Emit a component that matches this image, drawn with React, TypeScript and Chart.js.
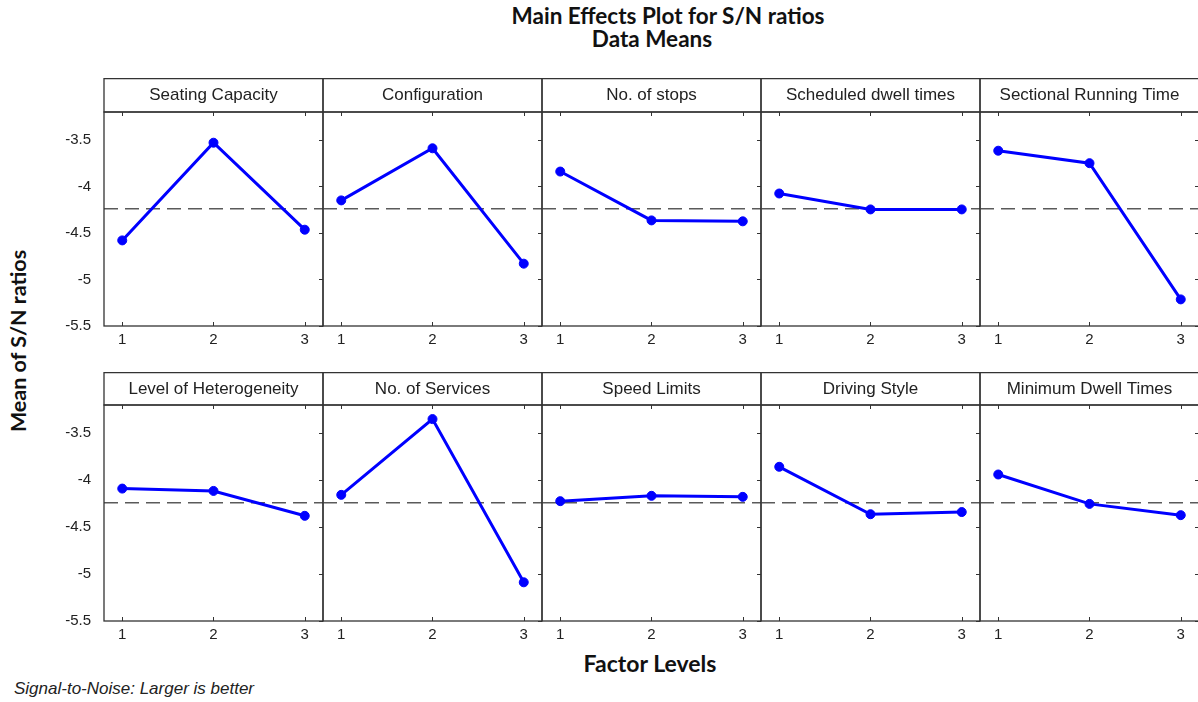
import React, { useEffect, useRef } from "react";
import { Chart, registerables } from "chart.js";

Chart.register(...registerables);

// ---- Data ----
const factorNames = [
  "Seating Capacity",
  "Configuration",
  "No. of stops",
  "Scheduled dwell times",
  "Sectional Running Time",
  "Level of Heterogeneity",
  "No. of Services",
  "Speed Limits",
  "Driving Style",
  "Minimum Dwell Times",
];
const levels = [1, 2, 3];
const seatingCapacity = [-4.58, -3.53, -4.465];
const configuration = [-4.15, -3.59, -4.83];
const noOfStops = [-3.84, -4.365, -4.375];
const scheduledDwellTimes = [-4.076, -4.247, -4.247];
const sectionalRunningTime = [-3.616, -3.75, -5.214];
const levelOfHeterogeneity = [-4.09, -4.115, -4.38];
const noOfServices = [-4.157, -3.35, -5.088];
const speedLimits = [-4.224, -4.167, -4.178];
const drivingStyle = [-3.858, -4.363, -4.34];
const minimumDwellTimes = [-3.94, -4.253, -4.373];
const overallMean = -4.24;
const yTickValues = [-5.5, -5, -4.5, -4, -3.5];
const yMin = -5.5;
const yMax = -3.2;
const xMin = 0.8;
const xMax = 3.2;

const seriesList = [
  seatingCapacity,
  configuration,
  noOfStops,
  scheduledDwellTimes,
  sectionalRunningTime,
  levelOfHeterogeneity,
  noOfServices,
  speedLimits,
  drivingStyle,
  minimumDwellTimes,
];

// ---- Layout ----
const colLeft = [104, 323, 542, 761, 980];
const plotW = 219;
const headerTop = [78, 372];
const plotTop = [112, 405];
const plotBottom = [326, 621];
const axisW = 60;
const xAxisH = 30;

const ARIAL = "'Liberation Sans', Arial, sans-serif";
const CALIBRI = "Lato, 'Open Sans', sans-serif";

function makeFramePlugin(title: string) {
  return {
    id: "panelFrame",
    afterDraw(chart: any) {
      const ctx = chart.ctx;
      const { left, right, top, bottom } = chart.chartArea;
      const xs = chart.scales.x;
      const ys = chart.scales.y;
      ctx.save();
      ctx.strokeStyle = "#333";
      ctx.lineWidth = 1.3;
      // header box
      ctx.strokeRect(left, 0.6, right - left, top - 0.6);
      // plot box
      ctx.strokeRect(left, top, right - left, bottom - top);
      // ticks
      ctx.lineWidth = 1;
      ctx.beginPath();
      levels.forEach((v) => {
        const px = Math.round(xs.getPixelForValue(v)) + 0.5;
        ctx.moveTo(px, top);
        ctx.lineTo(px, top + 4);
        ctx.moveTo(px, bottom);
        ctx.lineTo(px, bottom - 4);
      });
      yTickValues.forEach((v) => {
        const py = Math.round(ys.getPixelForValue(v)) + 0.5;
        ctx.moveTo(right, py);
        ctx.lineTo(right - 4, py);
      });
      ctx.stroke();
      // title text
      ctx.fillStyle = "#222";
      ctx.font = `17px ${ARIAL}`;
      ctx.textAlign = "center";
      ctx.textBaseline = "middle";
      ctx.fillText(title, (left + right) / 2, top / 2 + 0.5);
      ctx.restore();
    },
  };
}

function Panel({ idx }: { idx: number }) {
  const ref = useRef<HTMLCanvasElement | null>(null);
  const row = Math.floor(idx / 5);
  const col = idx % 5;
  const Ht = headerTop[row];
  const Pt = plotTop[row];
  const Pb = plotBottom[row];
  const left = colLeft[col] - axisW;
  const width = axisW + plotW + 1;
  const height = Pb - Ht + xAxisH;

  useEffect(() => {
    const values = seriesList[idx];
    const chart = new Chart(ref.current as HTMLCanvasElement, {
      type: "line",
      data: {
        datasets: [
          {
            data: levels.map((l, i) => ({ x: l, y: values[i] })),
            borderColor: "#0000ff",
            backgroundColor: "#0000ff",
            borderWidth: 3,
            pointRadius: 4.5,
            pointBorderWidth: 1,
            pointStyle: "circle",
            tension: 0,
          },
          {
            data: [
              { x: xMin, y: overallMean },
              { x: xMax, y: overallMean },
            ],
            borderColor: "#5a5a5a",
            borderDash: [14, 7],
            borderWidth: 1.5,
            pointRadius: 0,
          },
        ],
      },
      options: {
        responsive: false,
        animation: false,
        devicePixelRatio: 1,
        events: [],
        layout: {
          autoPadding: false,
          padding: { top: Pt - Ht, right: 1, left: 0, bottom: 0 },
        },
        plugins: {
          legend: { display: false },
          tooltip: { enabled: false },
          title: { display: false },
        },
        scales: {
          x: {
            type: "linear",
            min: xMin,
            max: xMax,
            afterBuildTicks: (s: any) => {
              s.ticks = levels.map((v) => ({ value: v }));
            },
            afterFit: (s: any) => {
              s.height = xAxisH;
            },
            grid: { display: false, drawTicks: false },
            border: { display: false },
            ticks: {
              padding: 5,
              color: "#222",
              maxRotation: 0,
              font: { family: ARIAL, size: 15 },
              callback: (v: any) => String(v),
            },
          },
          y: {
            type: "linear",
            min: yMin,
            max: yMax,
            afterBuildTicks: (s: any) => {
              s.ticks = yTickValues.map((v) => ({ value: v }));
            },
            afterFit: (s: any) => {
              s.width = axisW;
            },
            grid: { display: false, drawTicks: false },
            border: { display: false },
            ticks: {
              display: col === 0,
              padding: 13,
              color: "#222",
              font: { family: ARIAL, size: 15 },
              callback: (v: any) => String(v),
            },
          },
        },
      } as any,
      plugins: [makeFramePlugin(factorNames[idx])],
    });
    return () => chart.destroy();
  }, [idx]);

  return (
    <canvas
      ref={ref}
      width={width}
      height={height}
      style={{ position: "absolute", left, top: Ht, width, height }}
    />
  );
}

export default function App() {
  return (
    <div
      style={{
        position: "fixed",
        left: 0,
        top: 0,
        width: 1198,
        height: 702,
        overflow: "hidden",
        background: "#fff",
        color: "#111",
      }}
    >
      <div
        style={{
          position: "absolute",
          left: 668,
          top: 5,
          transform: "translateX(-50%)",
          font: `bold 22.5px ${CALIBRI}`,
          lineHeight: "22px",
          whiteSpace: "nowrap",
        }}
      >
        Main Effects Plot for S/N ratios
      </div>
      <div
        style={{
          position: "absolute",
          left: 652,
          top: 28,
          transform: "translateX(-50%)",
          font: `bold 22.5px ${CALIBRI}`,
          lineHeight: "22px",
          whiteSpace: "nowrap",
        }}
      >
        Data Means
      </div>
      <div
        style={{
          position: "absolute",
          left: 18,
          top: 341,
          transform: "translate(-50%, -50%) rotate(-90deg)",
          font: `bold 21.5px ${CALIBRI}`,
          lineHeight: "21px",
          whiteSpace: "nowrap",
        }}
      >
        Mean of S/N ratios
      </div>
      <div
        style={{
          position: "absolute",
          left: 650,
          top: 652,
          transform: "translateX(-50%)",
          font: `bold 23px ${CALIBRI}`,
          lineHeight: "22px",
          whiteSpace: "nowrap",
        }}
      >
        Factor Levels
      </div>
      <div
        style={{
          position: "absolute",
          left: 14,
          top: 680,
          font: `italic 17px ${ARIAL}`,
          lineHeight: "17px",
          whiteSpace: "nowrap",
          color: "#222",
        }}
      >
        Signal-to-Noise: Larger is better
      </div>
      {seriesList.map((_, i) => (
        <Panel key={i} idx={i} />
      ))}
    </div>
  );
}
